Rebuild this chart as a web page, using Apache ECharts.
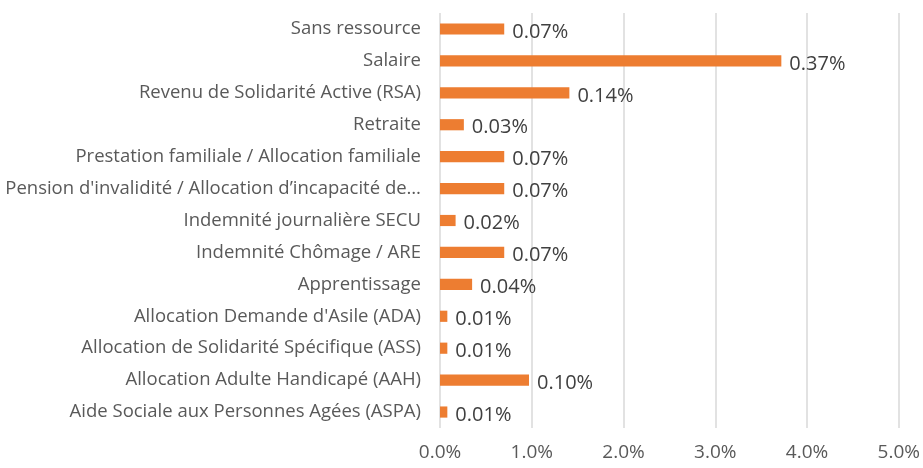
<!DOCTYPE html>
<html>
<head>
<meta charset="utf-8">
<script src="https://cdn.jsdelivr.net/npm/echarts@6/dist/echarts.min.js"></script>
<style>
  html, body { margin: 0; padding: 0; background: #fff; }
  #chart { width: 923px; height: 468px; }
</style>
</head>
<body>
<div id="chart"></div>
<script>
// categories, bottom to top (as drawn on the axis)
const categories = [
    'Aide Sociale aux Personnes Agées (ASPA)',
    'Allocation Adulte Handicapé (AAH)',
    'Allocation de Solidarité Spécifique (ASS)',
    "Allocation Demande d'Asile (ADA)",
    'Apprentissage',
    'Indemnité Chômage / ARE',
    'Indemnité journalière SECU',
    "Pension d'invalidité / Allocation d’incapacité de…",
    'Prestation familiale / Allocation familiale',
    'Retraite',
    'Revenu de Solidarité Active (RSA)',
    'Salaire',
    'Sans ressource'
];
// bar lengths (in %)
const barValues = [0.08, 0.97, 0.08, 0.08, 0.35, 0.70, 0.17, 0.70, 0.70, 0.26, 1.41, 3.72, 0.70];
// data labels as printed next to each bar
const barLabels = ['0.01%', '0.10%', '0.01%', '0.01%', '0.04%', '0.07%', '0.02%', '0.07%', '0.07%', '0.03%', '0.14%', '0.37%', '0.07%'];
const xTicks = { min: 0, max: 5, interval: 1 };

const font = '"Open Sans", "Liberation Sans", sans-serif';
const chart = echarts.init(document.getElementById('chart'));
chart.setOption({
    animation: false,
    textStyle: { fontFamily: font },
    grid: { left: 440, right: 24, top: 13, bottom: 40, containLabel: false },
    xAxis: {
        type: 'value',
        min: xTicks.min,
        max: xTicks.max,
        interval: xTicks.interval,
        axisLine: { show: false },
        axisTick: { show: false },
        splitLine: { show: true, lineStyle: { color: '#d9d9d9', width: 1.5 } },
        axisLabel: {
            color: '#595959',
            fontSize: 19,
            fontFamily: font,
            margin: 15,
            formatter: v => v.toFixed(1) + '%'
        }
    },
    yAxis: {
        type: 'category',
        data: categories,
        axisLine: { show: false },
        axisTick: { show: false },
        axisLabel: {
            color: '#595959',
            fontSize: 18.5,
            fontFamily: font,
            margin: 19
        }
    },
    series: [{
        type: 'bar',
        data: barValues,
        barCategoryGap: '65%',
        itemStyle: { color: '#ED7D31' },
        label: {
            show: true,
            position: 'right',
            distance: 8,
            color: '#404040',
            fontSize: 20,
            fontFamily: font,
            offset: [0, 3],
            formatter: p => barLabels[p.dataIndex]
        }
    }]
});
</script>
</body>
</html>
